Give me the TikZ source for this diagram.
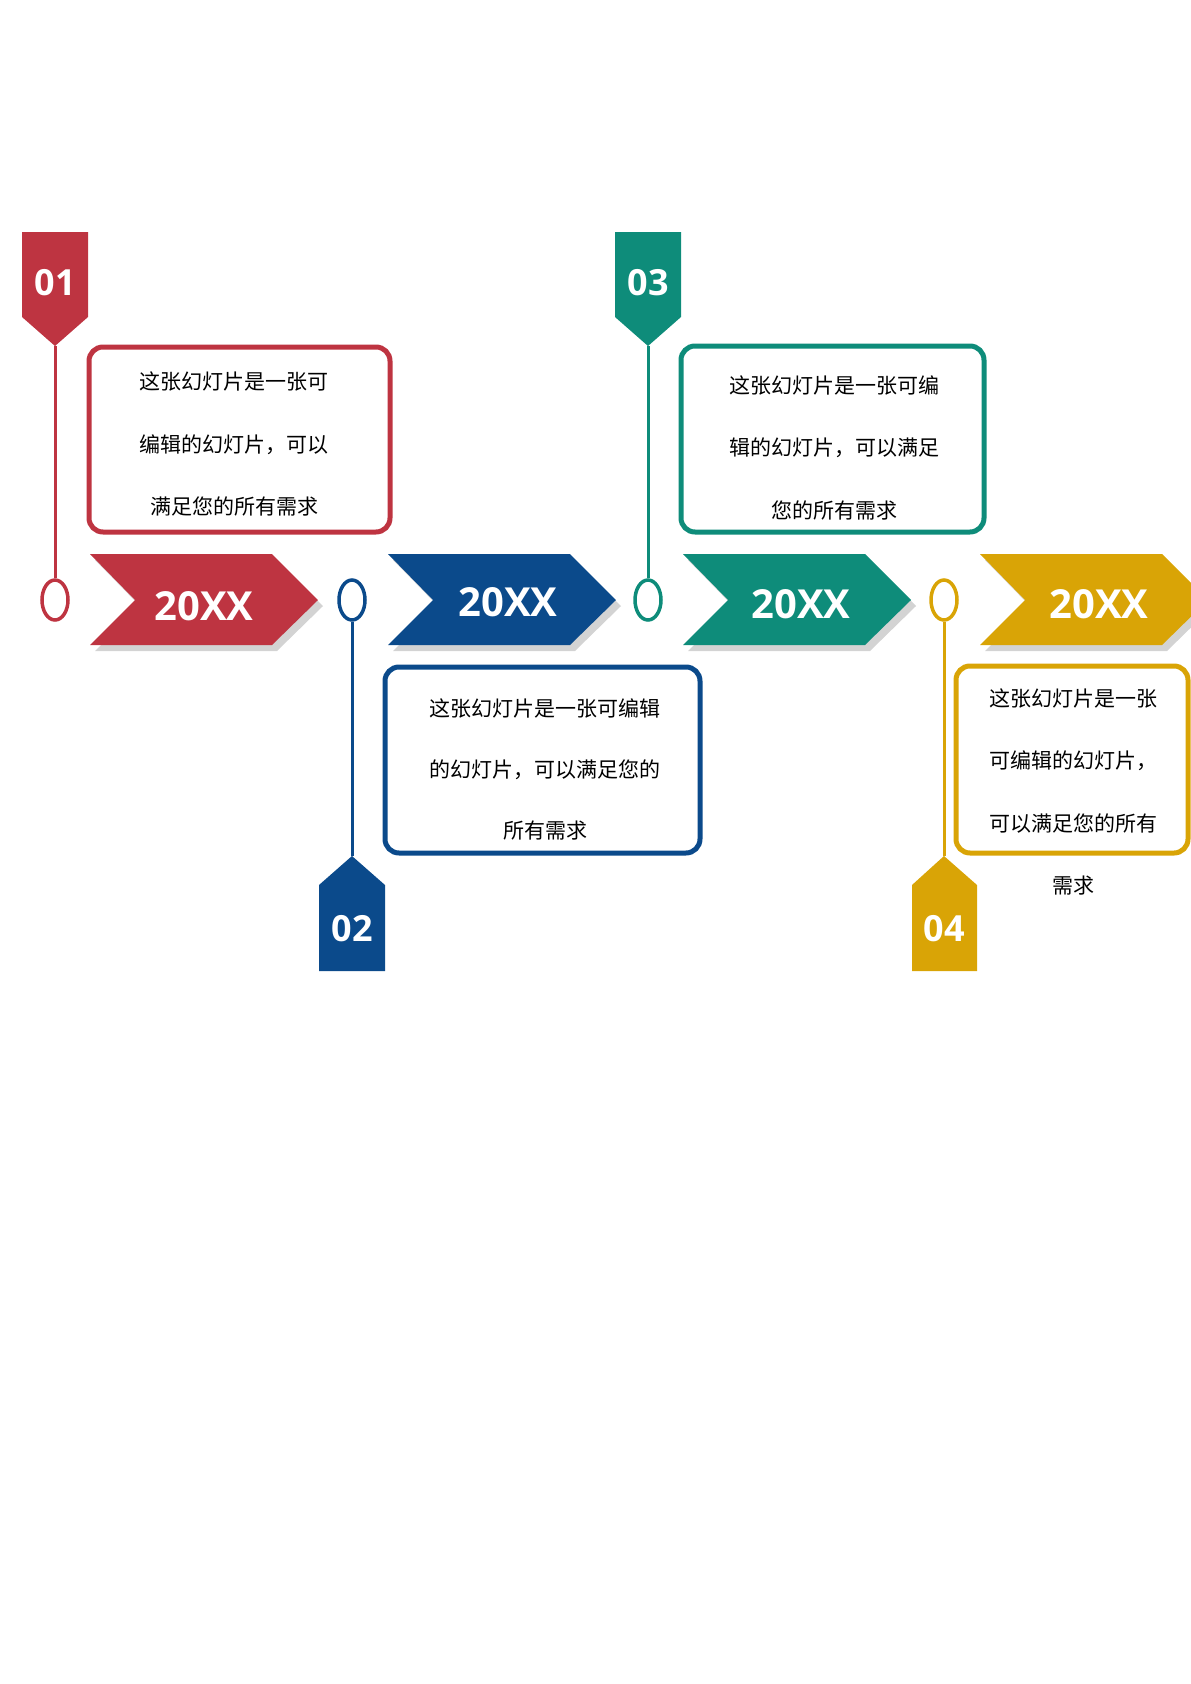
\documentclass[tikz,border=0pt]{standalone}
\usepackage{fontspec}
\setmainfont{Open Sans}
\newfontfamily\cjk{Noto Sans CJK SC}
\usetikzlibrary{shadows,shapes.geometric}
\definecolor{cred}{HTML}{BE3441}
\definecolor{cblue}{HTML}{0B4A8B}
\definecolor{cteal}{HTML}{0E8C7A}
\definecolor{cgold}{HTML}{D9A406}
\begin{document}
\begin{tikzpicture}[x=1pt,y=-1pt,
    stem/.style={line width=3pt},
    ring/.style={line width=3.5pt,fill=white,ellipse,minimum width=26pt,minimum height=40pt,inner sep=0pt},
    card/.style={line width=5pt,rounded corners=14pt},
    year/.style={text=white,font=\bfseries\fontsize{40}{40}\selectfont},
    num/.style={text=white,font=\bfseries\fontsize{36}{36}\selectfont},
    line/.style={font=\cjk\fontsize{21}{21}\selectfont,inner sep=0pt},
    chev/.style={drop shadow={shadow xshift=5pt,shadow yshift=-6pt,opacity=.35}}]
    \useasboundingbox (0,0) rectangle (1191,1684);
    % Chevrons
    \fill[cred,chev]  (90,554) -- (272,554) -- (318,600) -- (272,645) -- (90,645) -- (135,600) -- cycle;
    \fill[cblue,chev] (388,554) -- (570,554) -- (616,600) -- (570,645) -- (388,645) -- (433,600) -- cycle;
    \fill[cteal,chev] (683,554) -- (865,554) -- (911,600) -- (865,645) -- (683,645) -- (728,600) -- cycle;
    \fill[cgold,chev] (980,554) -- (1162,554) -- (1208,600) -- (1162,645) -- (980,645) -- (1025,600) -- cycle;
    \node[year] (y1) at (204,606) {20XX};
    \node[year] (y2) at (508,602) {20XX};
    \node[year] (y3) at (801,604) {20XX};
    \node[year] (y4) at (1099,604) {20XX};
    % Tags
    \fill[cred]  (22,232) -- (88,232) -- (88,317) -- (55,346) -- (22,317) -- cycle;
    \fill[cteal] (615,232) -- (681,232) -- (681,317) -- (648,346) -- (615,317) -- cycle;
    \fill[cblue] (319,971) -- (385,971) -- (385,885) -- (352,856) -- (319,885) -- cycle;
    \fill[cgold] (912,971) -- (977,971) -- (977,885) -- (944,856) -- (912,885) -- cycle;
    \node[num] (t1) at (55,283) {01};
    \node[num] (t3) at (648,283) {03};
    \node[num] (t2) at (352,929) {02};
    \node[num] (t4) at (944,929) {04};
    \coordinate (p1) at (55,346);
    \coordinate (p3) at (648,346);
    \coordinate (p2) at (352,856);
    \coordinate (p4) at (944,856);
    % Rings and stems
    \node[draw=cred,ring]  (r1) at (55,600) {};
    \node[draw=cblue,ring] (r2) at (352,600) {};
    \node[draw=cteal,ring] (r3) at (648,600) {};
    \node[draw=cgold,ring] (r4) at (944,600) {};
    \draw[stem,cred]  (p1) -- (r1.north);
    \draw[stem,cblue] (r2.south) -- (p2);
    \draw[stem,cteal] (p3) -- (r3.north);
    \draw[stem,cgold] (r4.south) -- (p4);
    % Cards
    \draw[card,cred]  (89,347) rectangle (390,532);
    \draw[card,cblue] (385,667) rectangle (700,853);
    \draw[card,cteal] (681,346) rectangle (984,532);
    \draw[card,cgold] (956,666) rectangle (1188,853);
    % Texts
    \node[line] (a1) at (234,382) {这张幻灯片是一张可};
    \node[line] (a2) at (234,445) {编辑的幻灯片，可以};
    \node[line] (a3) at (234,506) {满足您的所有需求};
    \node[line] (b1) at (545,708) {这张幻灯片是一张可编辑};
    \node[line] (b2) at (545,770) {的幻灯片，可以满足您的};
    \node[line] (b3) at (545,831) {所有需求};
    \node[line] (c1) at (834,386) {这张幻灯片是一张可编};
    \node[line] (c2) at (834,448) {辑的幻灯片，可以满足};
    \node[line] (c3) at (834,510) {您的所有需求};
    \node[line] (d1) at (1073,699) {这张幻灯片是一张};
    \node[line] (d2) at (1073,761) {可编辑的幻灯片，};
    \node[line] (d3) at (1073,824) {可以满足您的所有};
    \node[line] (d4) at (1073,886) {需求};
\end{tikzpicture}
\end{document}
